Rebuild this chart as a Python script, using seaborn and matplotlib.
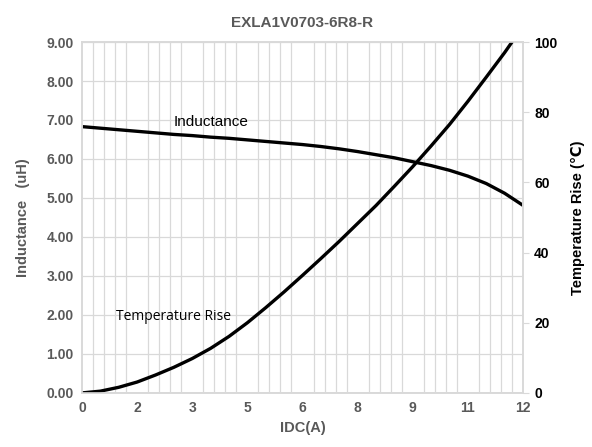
import numpy as np
import pandas as pd
import matplotlib
matplotlib.use("Agg")
import matplotlib.pyplot as plt
import seaborn as sb
from matplotlib.ticker import MultipleLocator

# Datos
idc_l = [0, 0.5, 1, 1.5, 2, 2.5, 3, 3.5, 4, 4.5, 5, 5.5, 6, 6.5, 7, 7.5, 8,
         8.5, 9, 9.5, 10, 10.5, 11, 11.5, 12]
inductancia = [6.83, 6.79, 6.75, 6.71, 6.67, 6.63, 6.60, 6.56, 6.53, 6.49, 6.45,
               6.41, 6.37, 6.32, 6.26, 6.19, 6.11, 6.03, 5.93, 5.83, 5.71, 5.56,
               5.37, 5.12, 4.81]

idc_t = [0, 0.5, 1, 1.5, 2, 2.5, 3, 3.5, 4, 4.5, 5, 5.5, 6, 6.5, 7, 7.5, 8,
         8.5, 9, 9.5, 10, 10.5, 11, 11.5, 11.7]
temp_rise = [0, 0.5, 1.6, 3.1, 5.1, 7.3, 9.8, 12.7, 16.1, 20.0, 24.3, 28.8,
             33.5, 38.3, 43.2, 48.3, 53.4, 58.9, 64.5, 70.4, 76.5, 83.1, 90.0,
             97.0, 100]

x_ticks = [0, 1.5, 3, 4.5, 6, 7.5, 9, 10.5, 12]
x_labels = ["0", "2", "3", "5", "6", "8", "9", "11", "12"]

df_l = pd.DataFrame({"IDC": idc_l, "L": inductancia})
df_t = pd.DataFrame({"IDC": idc_t, "T": temp_rise})

sb.set_style("white")
plt.rcParams["font.family"] = ["Liberation Sans", "DejaVu Sans"]

gris = "#595959"
rejilla = "#d9d9d9"

fig, ax = plt.subplots(figsize=(5.92, 4.47), dpi=100)
fig.subplots_adjust(left=0.1385, right=0.8835, top=0.906, bottom=0.121)

sb.lineplot(data=df_l, x="IDC", y="L", color="black", linewidth=2.4, ax=ax)

# eje secundario para el aumento de temperatura
ax2 = ax.twinx()
sb.lineplot(data=df_t, x="IDC", y="T", color="black", linewidth=2.4, ax=ax2)

ax.set_xlim(0, 12)
ax.set_ylim(0, 9)
ax2.set_ylim(0, 100)

# rejilla: vertical cada 0.3 A, horizontal cada 1.00
ax.xaxis.set_minor_locator(MultipleLocator(0.3))
ax.grid(which="minor", axis="x", color=rejilla, linewidth=0.9)
ax.grid(which="major", axis="y", color=rejilla, linewidth=0.9)
ax.set_axisbelow(True)

ax.set_xticks(x_ticks, labels=x_labels)
ax.set_yticks(np.arange(0, 10), labels=[f"{v:.2f}" for v in range(10)])
ax.tick_params(axis="both", which="both", length=0, labelsize=10, labelcolor=gris, pad=6)
for lbl in ax.get_xticklabels() + ax.get_yticklabels():
    lbl.set_fontweight("bold")

for a in (ax, ax2):
    for s in a.spines.values():
        s.set_color(rejilla)
        s.set_linewidth(1.2)

ax.set_xlabel("IDC(A)", fontsize=10.5, fontweight="bold", color=gris, labelpad=4)
ax.set_ylabel("Inductance   (uH)", fontsize=10.5, fontweight="bold", color=gris, labelpad=12)
ax.set_title("EXLA1V0703-6R8-R", fontsize=11, fontweight="bold", color=gris, pad=11)

ax2.yaxis.set_major_locator(MultipleLocator(20))
ax2.tick_params(axis="y", length=4, color=rejilla, labelsize=10, labelcolor="black", pad=4)
for lbl in ax2.get_yticklabels():
    lbl.set_fontweight("bold")
ax2.set_xlabel("")
ax2.set_ylabel("Temperature Rise (\u2103)", fontsize=10.5, fontweight="bold",
               color="black", labelpad=10)

ax.text(3.5, 6.95, "Inductance", fontsize=11, color="black", ha="center", va="center")
ax.text(2.5, 1.97, "Temperature Rise", fontsize=10, color="black", ha="center",
        va="center", family=["Open Sans", "DejaVu Sans"])

fig.savefig("out.png", dpi=100)
